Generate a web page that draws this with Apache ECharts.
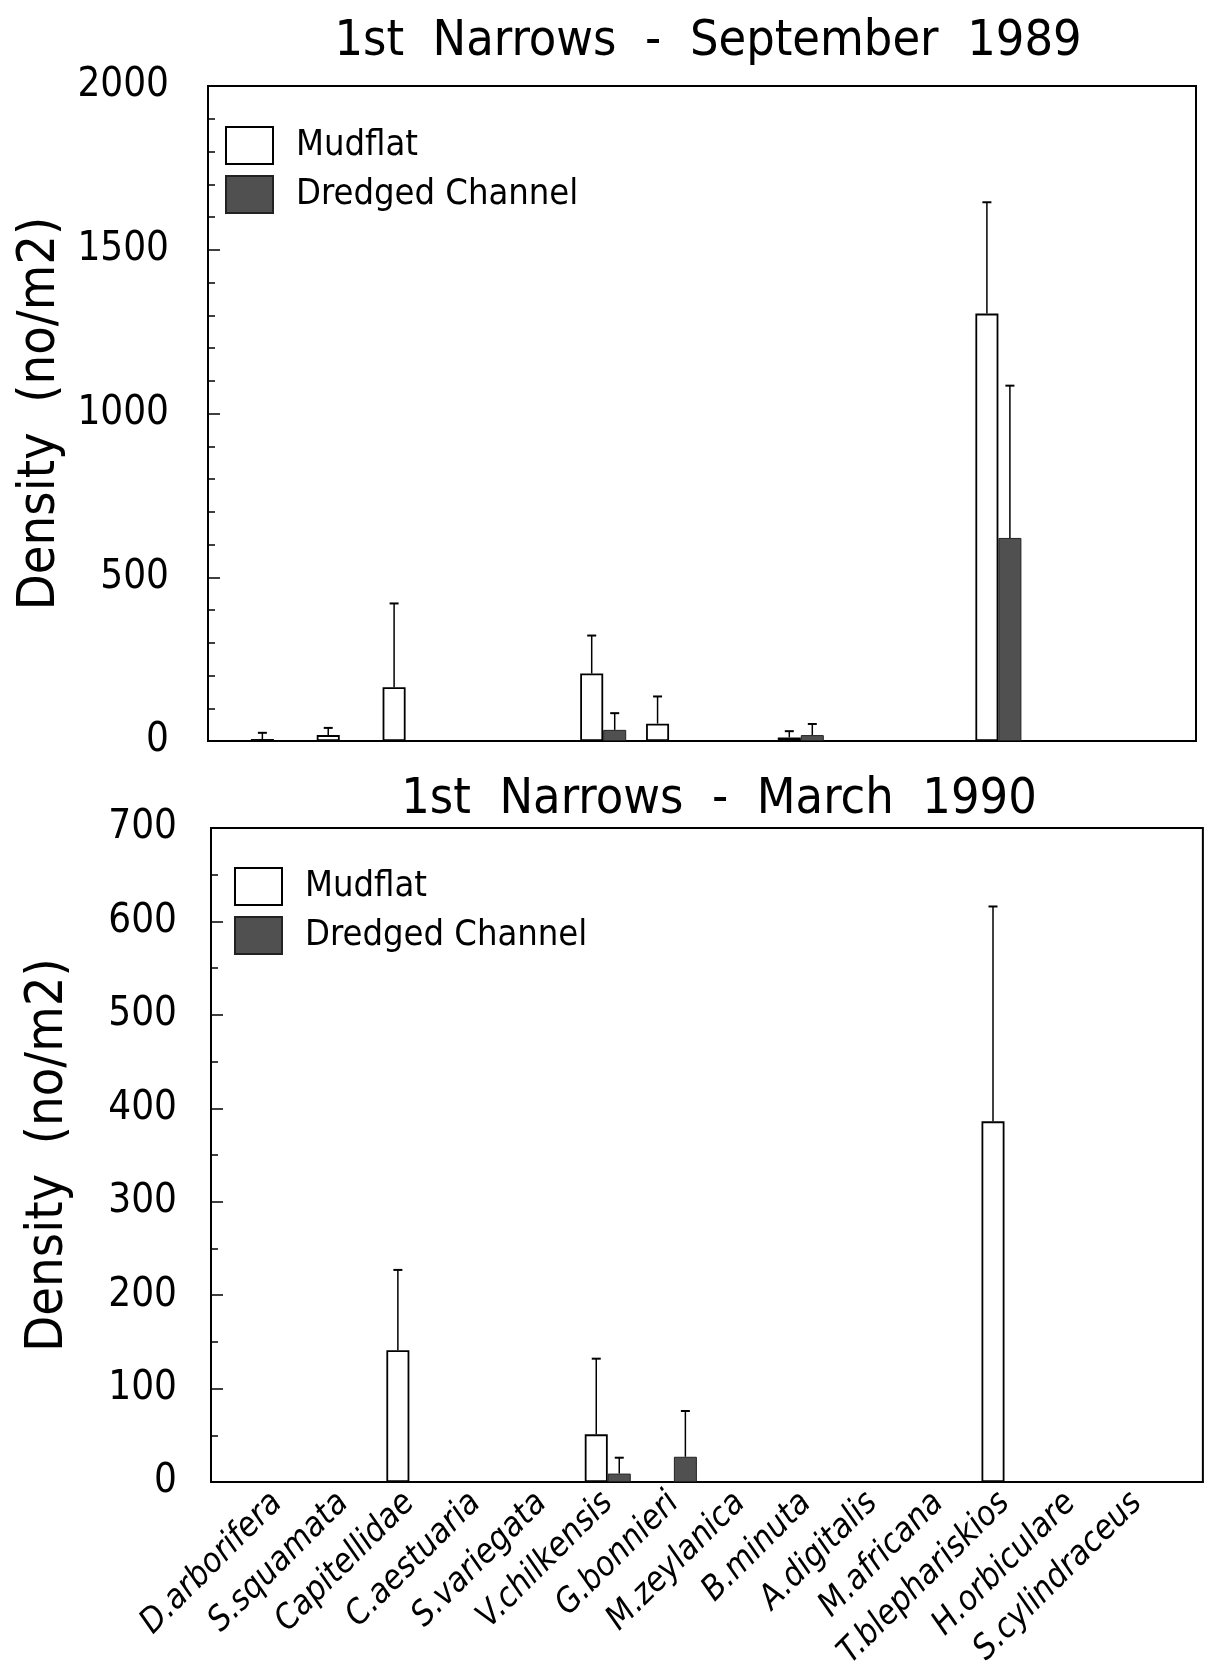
<!DOCTYPE html>
<html>
<head>
<meta charset="utf-8">
<script src="https://cdn.jsdelivr.net/npm/echarts@6/dist/echarts.min.js"></script>
<style>
html,body{margin:0;padding:0;background:#fff;}
#chart{width:1205px;height:1673px;}
</style>
</head>
<body>
<div id="chart"></div>
<script>
// ---- data ----
const categories = ['D.arborifera','S.squamata','Capitellidae','C.aestuaria','S.variegata','V.chilkensis','G.bonnieri','M.zeylanica','B.minuta','A.digitalis','M.africana','T.blephariskios','H.orbiculare','S.cylindraceus'];
const seriesNames = ['Mudflat', 'Dredged Channel'];
const titles = ['1st  Narrows  -  September  1989', '1st  Narrows  -  March  1990'];
const yAxisName = 'Density  (no/m2)';

// September 1989 (mean, and upper end of error bar)
const sepMudflat     = [6, 18, 164, 0, 0, 206, 53, 0, 11, 0, 0, 1305, 0, 0];
const sepMudflatErr  = [25, 40, 420, 0, 0, 322, 136, 0, 30, 0, 0, 1645, 0, 0];
const sepDredged     = [0, 0, 0, 0, 0, 34, 0, 0, 18, 0, 0, 620, 0, 0];
const sepDredgedErr  = [0, 0, 0, 0, 0, 85, 0, 0, 52, 0, 0, 1085, 0, 0];

// March 1990
const marMudflat     = [0, 0, 141, 0, 0, 51, 0, 0, 0, 0, 0, 386, 0, 0];
const marMudflatErr  = [0, 0, 227, 0, 0, 132, 0, 0, 0, 0, 0, 616, 0, 0];
const marDredged     = [0, 0, 0, 0, 0, 9, 27, 0, 0, 0, 0, 0, 0, 0];
const marDredgedErr  = [0, 0, 0, 0, 0, 26, 76, 0, 0, 0, 0, 0, 0, 0];

const sepYTicks = {min: 0, max: 2000, interval: 500};
const marYTicks = {min: 0, max: 700, interval: 100};

// ---- helpers ----
const FONT = '"Liberation Sans Narrow", "DejaVu Sans Condensed", Roboto, sans-serif';
const axisCats = [''].concat(categories).concat(['']);
const BAR_W = 23;

function barData(vals) {
  return [null].concat(vals.map(v => v > 0 ? v : '-')).concat([null]);
}
function errData(vals, errs) {
  const out = [];
  vals.forEach((v, i) => { if (errs[i] > 0) out.push([i + 1, errs[i], v]); });
  return out;
}
function errSeries(name, grid, vals, errs, offset) {
  return {
    type: 'custom', name: name + ' err', xAxisIndex: grid, yAxisIndex: grid, z: 5,
    data: errData(vals, errs),
    renderItem: function (params, api) {
      const top = api.coord([api.value(0), api.value(1)]);
      const base = api.coord([api.value(0), api.value(2)]);
      const x = top[0] + offset;
      return {
        type: 'group',
        children: [
          {type: 'line', shape: {x1: x, y1: base[1], x2: x, y2: top[1]}, style: {stroke: '#000', lineWidth: 1.5}},
          {type: 'line', shape: {x1: x - 4.5, y1: top[1], x2: x + 4.5, y2: top[1]}, style: {stroke: '#000', lineWidth: 2}}
        ]
      };
    }
  };
}
function barSeries(name, grid, vals, dark) {
  return {
    type: 'bar', name: name, xAxisIndex: grid, yAxisIndex: grid,
    barWidth: BAR_W, barGap: '0%',
    data: barData(vals),
    itemStyle: dark ? {color: '#505050', borderColor: '#222', borderWidth: 1}
                    : {color: '#fff', borderColor: '#000', borderWidth: 1.8},
    emphasis: {disabled: true}
  };
}
function xAxis(grid, showLabels) {
  return {
    type: 'category', gridIndex: grid, data: axisCats, boundaryGap: false,
    axisLine: {show: true, lineStyle: {color: '#000', width: 2}},
    axisTick: {show: false},
    axisLabel: showLabels ? {
      show: true, interval: 0, rotate: 45, margin: 16,
      fontFamily: FONT, fontStyle: 'italic', fontSize: 34, color: '#000'
    } : {show: false},
    splitLine: {show: false}
  };
}
function yAxis(grid, t, margin, gap) {
  return {
    type: 'value', gridIndex: grid, min: t.min, max: t.max, interval: t.interval,
    name: yAxisName, nameLocation: 'middle', nameGap: gap,
    nameTextStyle: {fontFamily: FONT, fontSize: 52, color: '#000'},
    axisLine: {show: true, lineStyle: {color: '#000', width: 2}},
    axisTick: {show: true, inside: true, length: 12, lineStyle: {color: '#000', width: 1.5}},
    minorTick: {show: true, splitNumber: t.interval === 500 ? 5 : 2, length: 7, lineStyle: {color: '#000', width: 1.5}},
    axisLabel: {margin: margin, fontFamily: FONT, fontSize: 40, color: '#000',
                formatter: function (v) { return String(v); }},
    splitLine: {show: false}
  };
}
function legend(left, top) {
  return {
    orient: 'vertical', left: left, top: top, itemWidth: 47, itemHeight: 37, itemGap: 10,
    data: seriesNames, selectedMode: false, icon: 'rect',
    textStyle: {fontFamily: FONT, fontSize: 36, color: '#000', padding: [0, 0, 0, 18]}
  };
}

const option = {
  backgroundColor: '#fff',
  animation: false,
  title: [
    {text: titles[0], left: 703, top: 12, textAlign: 'center',
     textStyle: {fontFamily: FONT, fontSize: 50, fontWeight: 'normal', color: '#000'}},
    {text: titles[1], left: 714, top: 770, textAlign: 'center',
     textStyle: {fontFamily: FONT, fontSize: 50, fontWeight: 'normal', color: '#000'}}
  ],
  legend: [legend(220, 121), legend(229, 862)],
  grid: [
    {left: 208, top: 86, width: 988, height: 655, show: true, borderColor: '#000', borderWidth: 2, backgroundColor: 'transparent'},
    {left: 211, top: 828, width: 992, height: 654, show: true, borderColor: '#000', borderWidth: 2, backgroundColor: 'transparent'}
  ],
  xAxis: [xAxis(0, false), xAxis(1, true)],
  yAxis: [yAxis(0, sepYTicks, 39, 139), yAxis(1, marYTicks, 34, 137)],
  series: [
    barSeries(seriesNames[0], 0, sepMudflat, false),
    barSeries(seriesNames[1], 0, sepDredged, true),
    errSeries(seriesNames[0], 0, sepMudflat, sepMudflatErr, -BAR_W / 2),
    errSeries(seriesNames[1], 0, sepDredged, sepDredgedErr, BAR_W / 2),
    barSeries(seriesNames[0], 1, marMudflat, false),
    barSeries(seriesNames[1], 1, marDredged, true),
    errSeries(seriesNames[0], 1, marMudflat, marMudflatErr, -BAR_W / 2),
    errSeries(seriesNames[1], 1, marDredged, marDredgedErr, BAR_W / 2)
  ]
};

const chart = echarts.init(document.getElementById('chart'), null, {renderer: 'canvas'});
chart.setOption(option);
</script>
</body>
</html>
